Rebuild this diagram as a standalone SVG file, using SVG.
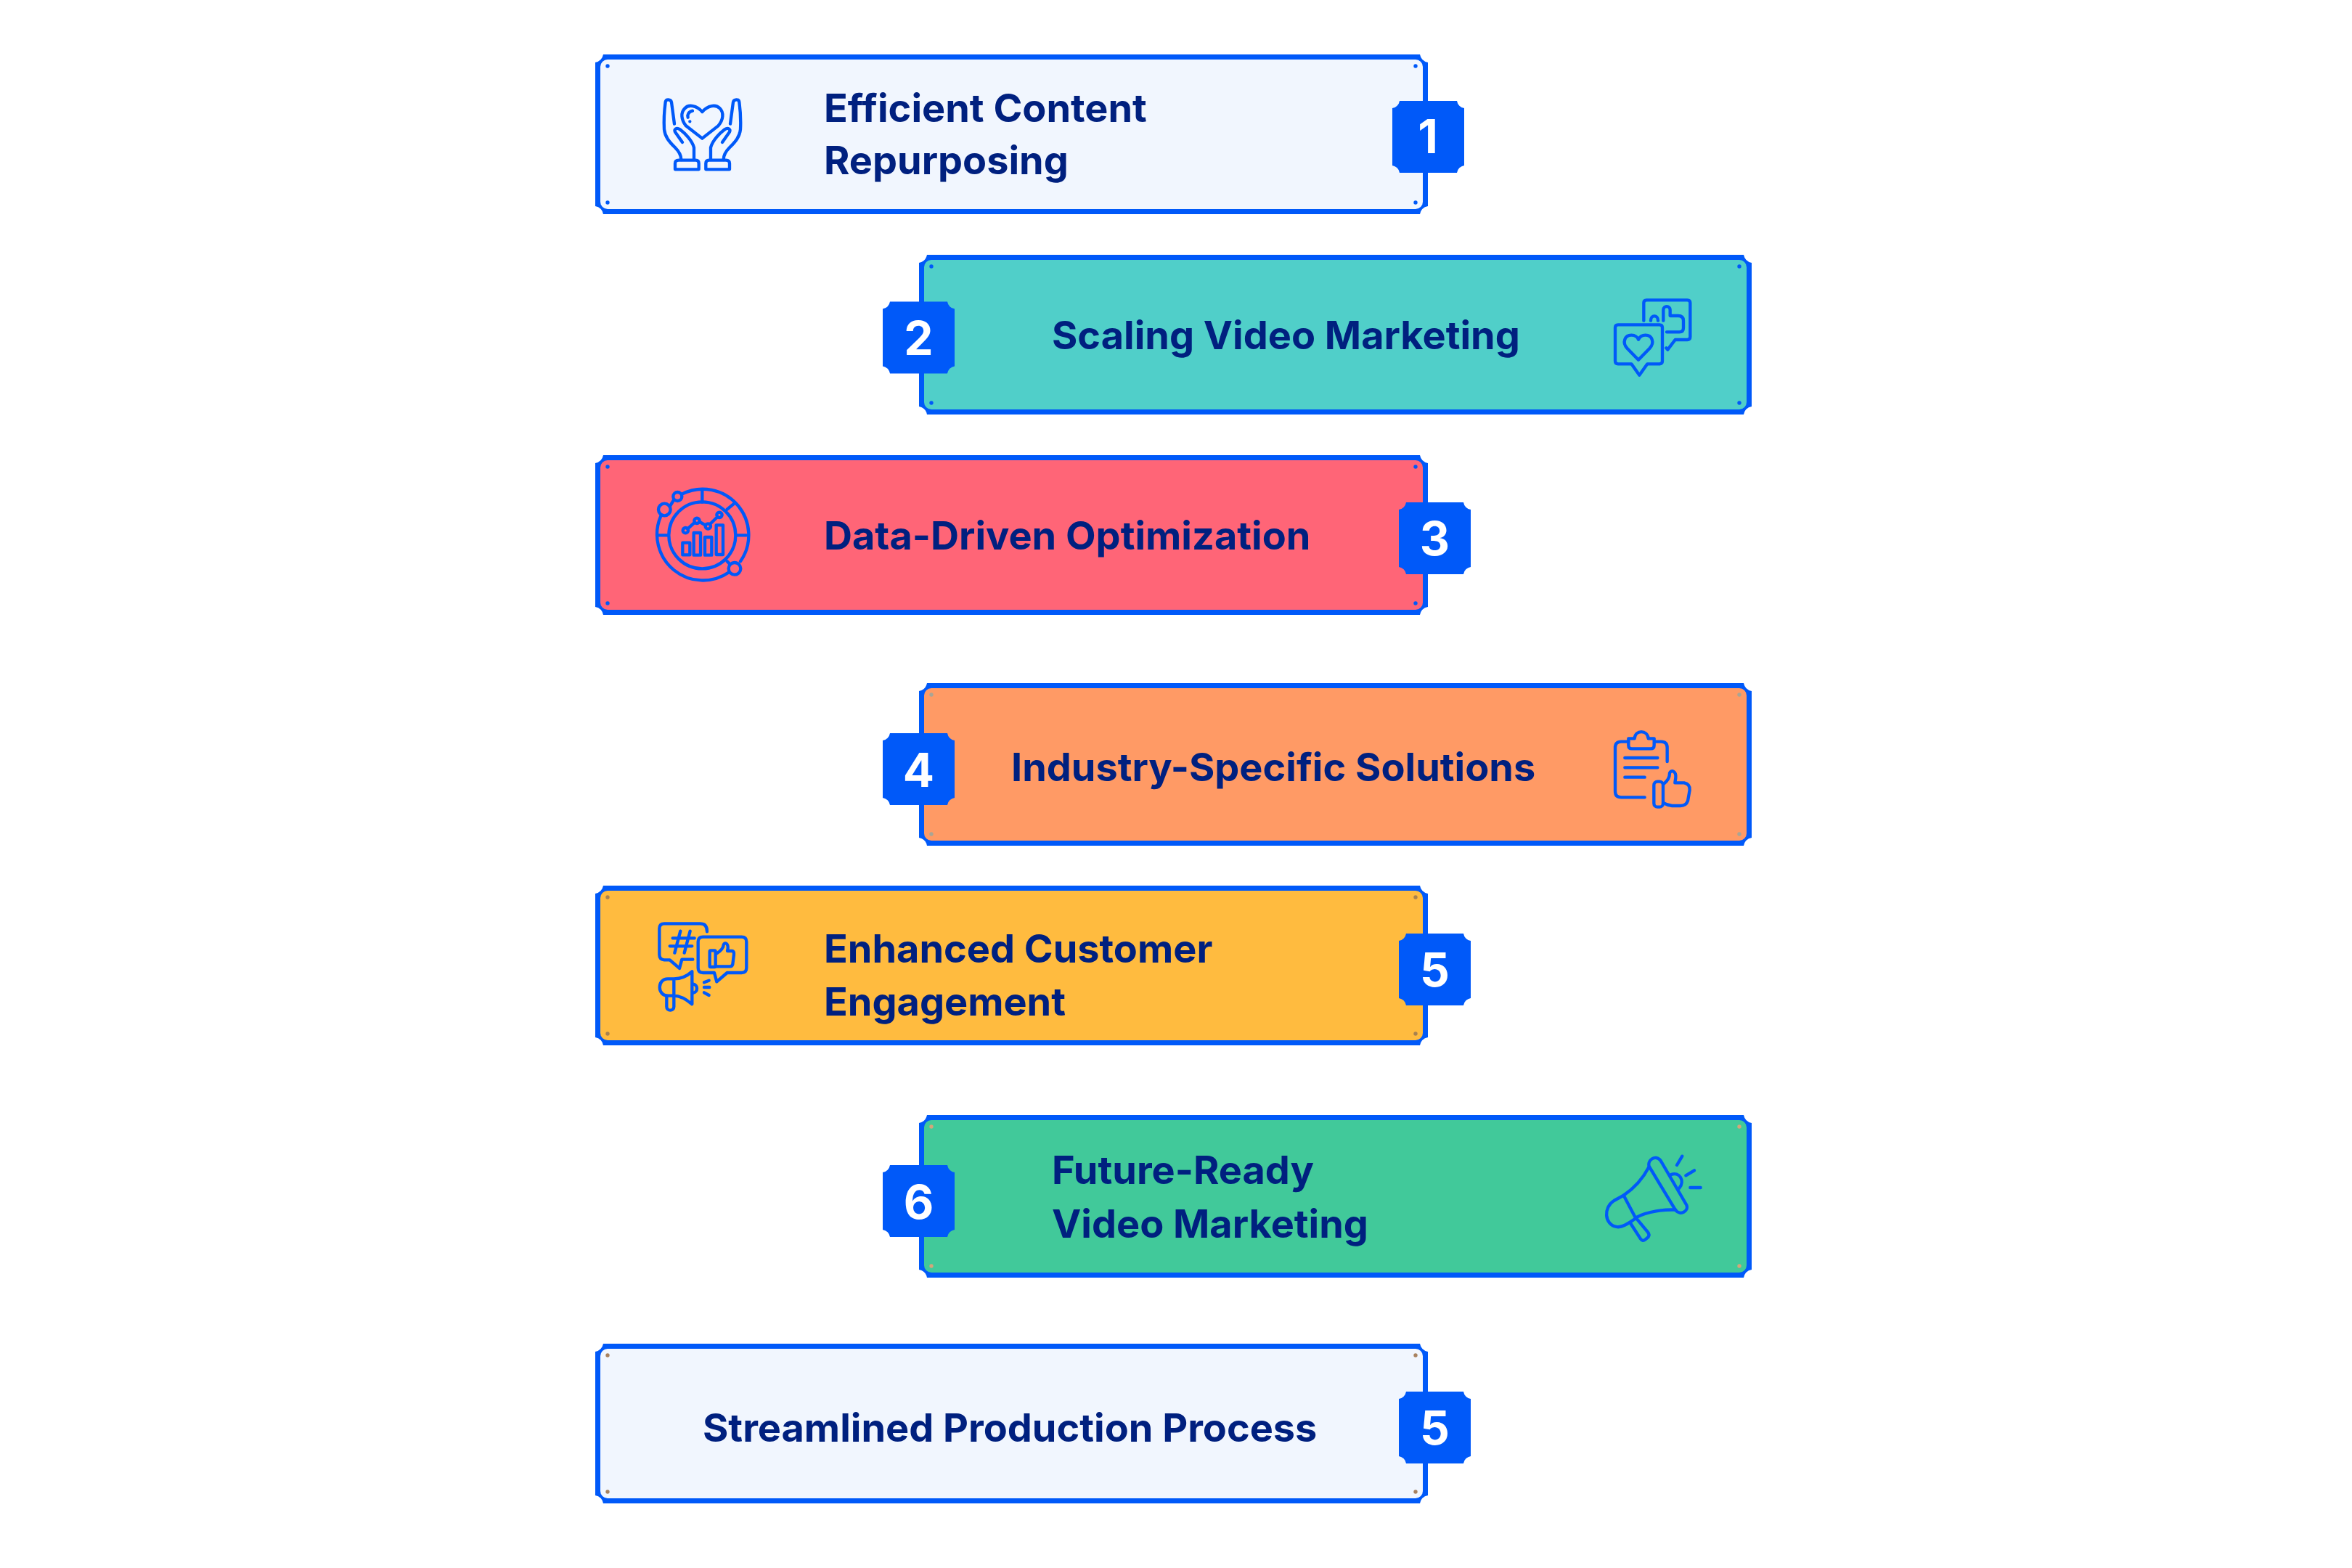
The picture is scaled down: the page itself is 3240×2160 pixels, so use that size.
<svg xmlns="http://www.w3.org/2000/svg" width="3240" height="2160" viewBox="0 0 3240 2160">
<style>
.b{fill:#0059f9}
.d{fill:#0059f9}
.t{font-family:"Inter","Liberation Sans",sans-serif;font-weight:700;font-size:54px;fill:#00207f}
.n{font-family:"Inter","Liberation Sans",sans-serif;font-weight:700;font-size:64px;fill:#fff;text-anchor:middle}
.i{fill:none;stroke:#0059f9;stroke-width:13;stroke-linecap:round;stroke-linejoin:round}
</style>
<defs>
<path id="badge" class="b" d="M10 0H89A12 12 0 0 0 99 10V89A12 12 0 0 0 89 99H10A12 12 0 0 0 0 89V10A12 12 0 0 0 10 0Z"/>
<path id="frame220" class="b" d="M11 0H1136A14 14 0 0 0 1147 11V209A14 14 0 0 0 1136 220H11A14 14 0 0 0 0 209V11A14 14 0 0 0 11 0Z"/>
<path id="frame224" class="b" d="M11 0H1136A14 14 0 0 0 1147 11V213A14 14 0 0 0 1136 224H11A14 14 0 0 0 0 213V11A14 14 0 0 0 11 0Z"/>
</defs>
<rect width="3240" height="2160" fill="#fff"/>

<g id="node-1">
<use href="#frame220" x="820" y="75"/>
<rect x="827" y="82" width="1133" height="206" rx="10" fill="#f1f6fe"/>
<circle class="d" cx="837" cy="91" r="2.7"/><circle class="d" cx="1950" cy="91" r="2.7"/><circle class="d" cx="837" cy="279" r="2.7"/><circle class="d" cx="1950" cy="279" r="2.7"/>
<g transform="translate(880 110) scale(.3333)" class="i">
<path d="M262 132C240 105 205 100 190 118C172 135 175 165 195 190L262 242L328 190C350 165 352 135 335 118C318 100 285 105 262 132Z"/>
<path d="M222 128C205 132 200 145 203 155M211 172V172"/>
<g id="hand-a"><path d="M147 182L135 92C132 80 112 78 110 92C105 130 103 170 105 205C108 235 125 255 150 280C165 295 175 310 175 330"/>
<path d="M180 258L150 215C145 205 155 195 170 205C190 220 220 250 228 280L228 330"/>
<path d="M150 370V345Q150 332 165 332H235Q248 332 248 345V370Z"/></g>
<g transform="translate(525 0) scale(-1 1)"><path d="M147 182L135 92C132 80 112 78 110 92C105 130 103 170 105 205C108 235 125 255 150 280C165 295 175 310 175 330"/>
<path d="M180 258L150 215C145 205 155 195 170 205C190 220 220 250 228 280L228 330"/>
<path d="M150 370V345Q150 332 165 332H235Q248 332 248 345V370Z"/></g>
</g>
<text class="t" x="1135" y="168">Efficient Content</text>
<text class="t" x="1135" y="240">Repurposing</text>
<use href="#badge" x="1918" y="139"/>
<text class="n" x="1967" y="211">1</text>
</g>

<g id="node-2">
<use href="#frame220" x="1266" y="351"/>
<rect x="1273" y="358" width="1133" height="206" rx="10" fill="#50cfc9"/>
<circle class="d" cx="1283" cy="367" r="2.7"/><circle class="d" cx="2396" cy="367" r="2.7"/><circle class="d" cx="1283" cy="555" r="2.7"/><circle class="d" cx="2396" cy="555" r="2.7"/>
<g transform="translate(2210 400) scale(.3333)" class="i">
<path d="M163 125V52Q163 40 175 40H343Q355 40 355 52V192Q355 204 343 204H293L262 245L256 238"/>
<path d="M192 125C192 100 222 100 222 125M244 125V80C244 62 272 62 272 80V105H305Q327 105 327 125V155Q327 172 310 172H258"/>
<path d="M57 142H228Q240 142 240 154V292Q240 304 228 304H178L145 350L112 304H57Q45 304 45 292V154Q45 142 57 142Z"/>
<path d="M141 287L95 240C72 215 85 185 112 185C128 185 138 195 141 203C145 195 155 185 170 185C197 185 210 215 187 240Z"/>
</g>
<text class="t" x="1449" y="481">Scaling Video Marketing</text>
<use href="#badge" x="1216" y="415.5"/>
<text class="n" x="1265.5" y="489">2</text>
</g>

<g id="node-3">
<use href="#frame220" x="820" y="627"/>
<rect x="827" y="634" width="1133" height="206" rx="10" fill="#ff6577"/>
<circle class="d" cx="837" cy="643" r="2.7"/><circle class="d" cx="1950" cy="643" r="2.7"/><circle class="d" cx="837" cy="831" r="2.7"/><circle class="d" cx="1950" cy="831" r="2.7"/>
<g transform="translate(890 660) scale(.3333)" class="i">
<path d="M148 62A190 190 0 0 1 390 340M343 385A190 190 0 0 1 60 155M100 110L115 85"/>
<circle cx="232" cy="232" r="138"/>
<circle cx="76" cy="126" r="25"/><circle cx="130" cy="72" r="18"/><circle cx="366" cy="370" r="25"/>
<path d="M232 45V95M335 125L365 100M45 232H92M372 232H415M335 340L345 350"/>
<rect x="151" y="263" width="30" height="50"/><rect x="197" y="222" width="28" height="92"/><rect x="243" y="240" width="28" height="74"/><rect x="290" y="190" width="28" height="122"/>
<circle cx="163" cy="212" r="11"/><circle cx="210" cy="172" r="11"/><circle cx="256" cy="195" r="11"/><circle cx="303" cy="148" r="11"/>
<path d="M172 205L201 179M220 176L246 191M264 186L295 156"/>
</g>
<text class="t" x="1135" y="757">Data-Driven Optimization</text>
<use href="#badge" x="1927" y="692"/>
<text class="n" x="1976.5" y="765">3</text>
</g>

<g id="node-4">
<use href="#frame224" x="1266" y="941"/>
<rect x="1273" y="948" width="1133" height="210" rx="10" fill="#ff9a65"/>
<circle cx="1283" cy="957" r="2.7" fill="#a9a595"/><circle cx="2396" cy="957" r="2.7" fill="#a9a595"/><circle cx="1283" cy="1149" r="2.7" fill="#a9a595"/><circle cx="2396" cy="1149" r="2.7" fill="#a9a595"/>
<g transform="translate(2210 1000) scale(.3333)" class="i">
<path d="M100 65H70Q45 65 45 90V270Q45 295 70 295H167M212 65H235Q260 65 260 90V147"/>
<path d="M125 52H100V80Q100 94 114 94H192Q206 94 206 80V52H182C178 15 128 15 125 52Z"/>
<path d="M85 132H220M85 172H220M85 212H167"/>
<rect x="205" y="230" width="38" height="105" rx="15"/>
<path d="M245 240C265 225 270 205 270 195C275 180 298 185 295 215L292 235H330Q355 240 353 265L345 310Q338 330 315 330H280Q260 328 243 318"/>
</g>
<text class="t" x="1393" y="1076">Industry-Specific Solutions</text>
<use href="#badge" x="1216" y="1010"/>
<text class="n" x="1265.5" y="1084">4</text>
</g>

<g id="node-5">
<use href="#frame220" x="820" y="1220"/>
<rect x="827" y="1227" width="1133" height="206" rx="10" fill="#ffbb3f"/>
<circle cx="837" cy="1236" r="2.7" fill="#a8814f"/><circle cx="1950" cy="1236" r="2.7" fill="#a8814f"/><circle cx="837" cy="1424" r="2.7" fill="#a8814f"/><circle cx="1950" cy="1424" r="2.7" fill="#a8814f"/>
<g transform="translate(900 1260) scale(.3333)" class="i">
<path d="M222 70Q222 37 195 37H45Q25 37 25 57V165Q25 185 45 187H68L108 222L118 185H163"/>
<path d="M112 68L88 158M152 68L128 158M80 97H170M68 130H160"/>
<path d="M205 92H365Q385 92 385 112V220Q385 240 365 240H305L262 277L252 240H205Q185 240 185 220V112Q185 92 205 92Z"/>
<rect x="233" y="148" width="24" height="68" rx="4"/>
<path d="M262 160C280 150 290 135 290 125C295 112 310 118 308 140L306 150H325Q335 152 333 165L328 205Q325 215 315 214H262"/>
<path d="M160 235V370C130 345 110 335 85 335H60C15 335 15 265 60 265H85C110 265 135 258 160 235ZM85 265V335"/>
<path d="M55 335V380C55 400 85 400 85 380V337M165 287C185 290 185 320 165 323M210 280L230 272M210 300H232M210 322L230 333"/>
</g>
<text class="t" x="1135" y="1326">Enhanced Customer</text>
<text class="t" x="1135" y="1399">Engagement</text>
<use href="#badge" x="1927" y="1286"/>
<text class="n" x="1976.5" y="1359">5</text>
</g>

<g id="node-6">
<use href="#frame224" x="1266" y="1536"/>
<rect x="1273" y="1543" width="1133" height="210" rx="10" fill="#41c99a"/>
<circle cx="1283" cy="1552" r="2.7" fill="#d3a67a"/><circle cx="2396" cy="1552" r="2.7" fill="#d3a67a"/><circle cx="1283" cy="1744" r="2.7" fill="#d3a67a"/><circle cx="2396" cy="1744" r="2.7" fill="#d3a67a"/>
<g transform="translate(2200 1580) scale(.3333)" class="i">
<path d="M215 80C208 55 240 30 262 55L370 240C380 265 345 285 325 262Z"/>
<path d="M215 82C190 130 155 170 110 200M325 260C280 258 210 265 160 292"/>
<path d="M110 200L70 222C25 250 30 320 80 330C100 335 125 320 160 295Z"/>
<path d="M138 315L180 380Q188 392 200 382L212 372Q218 362 210 352L160 292"/>
<path d="M305 115C340 100 365 140 340 170M330 75L352 38M367 118L402 97M385 168H428"/>
</g>
<text class="t" x="1449" y="1631">Future-Ready</text>
<text class="t" x="1449" y="1705">Video Marketing</text>
<use href="#badge" x="1216" y="1605"/>
<text class="n" x="1265.5" y="1679">6</text>
</g>

<g id="node-7">
<use href="#frame220" x="820" y="1851"/>
<rect x="827" y="1858" width="1133" height="206" rx="10" fill="#f1f6fe"/>
<circle cx="837" cy="1867" r="2.7" fill="#a8825f"/><circle cx="1950" cy="1867" r="2.7" fill="#a8825f"/><circle cx="837" cy="2055" r="2.7" fill="#a8825f"/><circle cx="1950" cy="2055" r="2.7" fill="#a8825f"/>
<text class="t" x="968" y="1986">Streamlined Production Process</text>
<use href="#badge" x="1927" y="1917"/>
<text class="n" x="1976.5" y="1990">5</text>
</g>
</svg>
